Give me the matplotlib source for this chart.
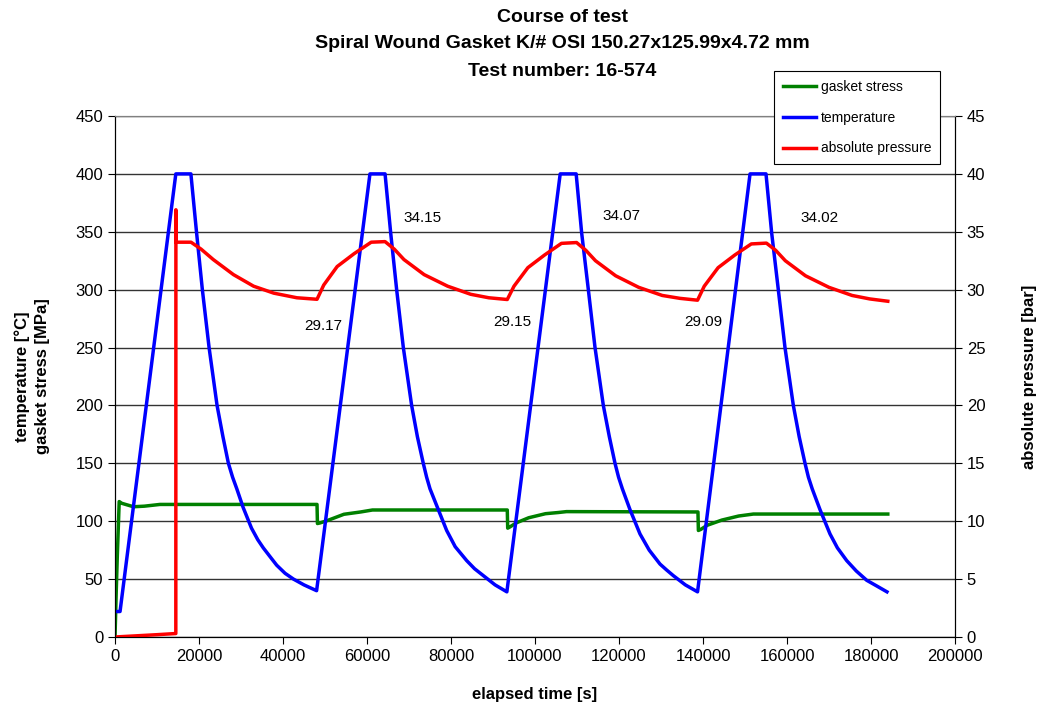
import matplotlib.pyplot as plt

plt.rcParams['font.family'] = ['Liberation Sans', 'DejaVu Sans']

# elapsed time [s] / temperature [°C]
temp_time = [0, 1200, 14480, 18070, 19400, 20800, 22400, 24300, 25700, 27000, 28000, 29000, 30500, 32500, 34000,
             35300, 37000, 38500, 40500, 42500, 45000, 48000,
             60700, 64300, 65640, 67060, 68650, 70630, 72000, 73400, 74200, 75000, 76980, 78970, 81000, 83730,
             85600, 87700, 90500, 93300,
             106000, 109800, 111110, 112700, 114290, 116270, 117700, 119050, 119900, 120800, 122620, 125000,
             127200, 129760, 131300, 132930, 135800, 138700,
             151200, 155000, 156350, 157930, 159520, 161510, 162900, 164290, 165100, 166000, 167860, 170240,
             172000, 174210, 176500, 178970, 181400, 183800]
temp_vals = [22, 22, 400, 400, 350, 300, 250, 200, 173, 150, 138, 128, 112, 94, 84,
             77, 69, 62, 55, 50, 45, 40,
             400, 400, 349, 300, 250, 200, 173, 150, 138, 128, 110, 92, 78, 66,
             59, 53, 45, 39,
             400, 400, 349, 300, 250, 200, 173, 150, 138, 128, 110, 89,
             75, 63, 58, 53, 45, 39,
             400, 400, 349, 300, 250, 200, 173, 150, 138, 128, 110, 89,
             77, 66, 57, 49, 44, 39]

# gasket stress [MPa]
stress_time = [0, 300, 550, 1000, 1600, 4400, 7000, 10700, 48100, 48200, 48800, 50500, 54500, 58500, 61300,
               93400, 93500, 94000, 95500, 98500, 102500, 105500, 107500, 138800, 138900, 139500, 141000,
               144500, 148500, 152000, 184000]
stress_vals = [0, 40, 70, 117, 115.5, 112.5, 113, 114.5, 114.5, 98, 98.5, 100.5, 106, 108, 109.7,
               109.7, 94, 95, 98.5, 103, 106.5, 107.5, 108.3, 108, 92, 93, 96.5,
               101, 104.5, 106.2, 106.2]

# absolute pressure [bar]
press_time = [0, 5000, 10000, 14480, 14500, 14520, 18100, 20500, 23400, 28200, 33000, 37800, 43300, 48100,
              49700, 52900, 56900, 61000, 64300, 66500, 68800, 73600, 79200, 84700, 89000, 93400,
              95000, 98300, 102300, 106300, 109900, 112100, 114400, 119200, 124700, 130300, 134500, 138700,
              140300, 143600, 147600, 151500, 155100, 157300, 159600, 164400, 170000, 175500, 179700, 184000]
press_vals = [0, 0.1, 0.2, 0.3, 36.9, 34.1, 34.1, 33.5, 32.6, 31.3, 30.3, 29.7, 29.3, 29.17,
              30.4, 32.0, 33.1, 34.1, 34.15, 33.5, 32.6, 31.3, 30.3, 29.6, 29.3, 29.15,
              30.3, 31.9, 33.0, 34.0, 34.07, 33.4, 32.5, 31.2, 30.2, 29.5, 29.25, 29.09,
              30.3, 31.9, 33.0, 33.95, 34.02, 33.4, 32.5, 31.2, 30.2, 29.5, 29.2, 29.0]

# labels for pressure extremes
label_text = ["29.17", "34.15", "29.15", "34.07", "29.09", "34.02"]
label_time = [49600, 73300, 94700, 120500, 140100, 167700]
label_pos = [26.9, 36.2, 27.2, 36.4, 27.2, 36.2]

fig = plt.figure(figsize=(10.39, 7.09), dpi=100)
ax = fig.add_axes([115 / 1039, 1 - 637 / 709, 840 / 1039, 521 / 709])
ax2 = ax.twinx()

l1, = ax.plot(stress_time, stress_vals, color='#008000', lw=2.5, label='gasket stress')
l2, = ax.plot(temp_time, temp_vals, color='#0000ff', lw=2.5, label='temperature')
l3, = ax2.plot(press_time, press_vals, color='#ff0000', lw=2.5, label='absolute pressure')

for txt, t, p in zip(label_text, label_time, label_pos):
    ax2.text(t, p, txt, ha='center', va='center', fontsize=11)

ax.set_xlim(0, 200000)
ax.set_ylim(0, 450)
ax2.set_ylim(0, 45)
ax.set_xticks(range(0, 200001, 20000))
ax.set_yticks(range(0, 451, 50))
ax2.set_yticks(range(0, 46, 5))
ax.tick_params(labelsize=12, direction='out', length=5, color='black')
ax2.tick_params(labelsize=12, direction='out', length=5, color='black')
ax.grid(axis='y', color='#333333', lw=1)
ax.set_axisbelow(True)

for a in (ax, ax2):
    a.spines['top'].set_color('#808080')
    for s in ('left', 'right', 'bottom'):
        a.spines[s].set_color('black')

ax.set_xlabel('elapsed time [s]', fontsize=12, fontweight='bold', labelpad=17)
ax.set_ylabel('temperature [°C]\ngasket stress [MPa]', fontsize=12, fontweight='bold', labelpad=18,
              linespacing=1.45)
ax2.set_ylabel('absolute pressure [bar]', fontsize=12, fontweight='bold', labelpad=26)

fig.text(0.541, 1 - 17 / 709, 'Course of test', ha='center', va='center', fontsize=14, fontweight='bold')
fig.text(0.541, 1 - 44 / 709, 'Spiral Wound Gasket K/# OSI 150.27x125.99x4.72 mm', ha='center', va='center',
         fontsize=14, fontweight='bold')
fig.text(0.541, 1 - 71 / 709, 'Test number: 16-574', ha='center', va='center', fontsize=14, fontweight='bold')

leg = fig.legend(handles=[l1, l2, l3], loc='upper left', bbox_to_anchor=(774 / 1039, 1 - 71 / 709),
                 borderaxespad=0, fontsize=10, handlelength=2.4, handletextpad=0.3, labelspacing=1.2,
                 borderpad=0.65, fancybox=False, framealpha=1, edgecolor='black')
leg.get_frame().set_linewidth(0.8)

fig.savefig('out.png', dpi=100)
